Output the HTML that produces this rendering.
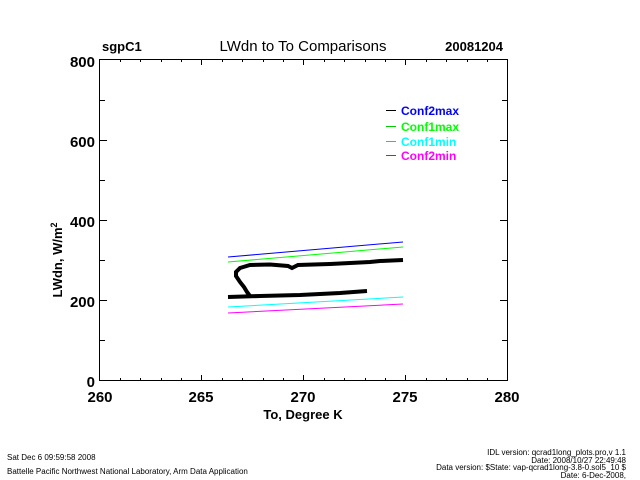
<!DOCTYPE html>
<html><head><style>body{margin:0;background:#fff}svg{display:block}</style></head><body>
<svg width="640" height="480" xmlns="http://www.w3.org/2000/svg" font-family="Liberation Sans, sans-serif">
<rect width="640" height="480" fill="#fff"/>
<g stroke="#000" stroke-width="1" fill="none">
<rect x="99.5" y="59.5" width="408" height="321"/>
<path d="M120.5 381v-3M140.5 381v-3M161.5 381v-3M181.5 381v-3M201.5 381v-6M222.5 381v-3M242.5 381v-3M263.5 381v-3M283.5 381v-3M303.5 381v-6M324.5 381v-3M344.5 381v-3M365.5 381v-3M385.5 381v-3M405.5 381v-6M426.5 381v-3M446.5 381v-3M467.5 381v-3M487.5 381v-3"/>
<path d="M120.5 59v3M140.5 59v3M161.5 59v3M181.5 59v3M201.5 59v6M222.5 59v3M242.5 59v3M263.5 59v3M283.5 59v3M303.5 59v6M324.5 59v3M344.5 59v3M365.5 59v3M385.5 59v3M405.5 59v6M426.5 59v3M446.5 59v3M467.5 59v3M487.5 59v3"/>
<path d="M99 340.5h6M99 300.5h8M99 260.5h6M99 220.5h8M99 180.5h6M99 140.5h8M99 100.5h6"/>
<path d="M508 340.5h-6M508 300.5h-8M508 260.5h-6M508 220.5h-8M508 180.5h-6M508 140.5h-8M508 100.5h-6"/>
</g>
<g font-size="15" font-weight="bold" text-anchor="middle" fill="#000">
<text x="100" y="402">260</text><text x="201" y="402">265</text><text x="303" y="402">270</text><text x="405" y="402">275</text><text x="507" y="402">280</text>
</g>
<g font-size="15" font-weight="bold" text-anchor="end" fill="#000">
<text x="95" y="387">0</text><text x="95" y="307">200</text><text x="95" y="227">400</text><text x="95" y="147">600</text><text x="95" y="67">800</text>
</g>
<text x="303" y="419" font-size="13" font-weight="bold" text-anchor="middle">To, Degree K</text>
<text transform="translate(62,260) rotate(-90)" font-size="13" font-weight="bold" text-anchor="middle">LWdn, W/m<tspan dy="-5" font-size="9">2</tspan></text>
<text x="102" y="51" font-size="13" font-weight="bold">sgpC1</text>
<text x="303" y="51" font-size="15" text-anchor="middle">LWdn to To Comparisons</text>
<text x="503" y="51" font-size="13" font-weight="bold" text-anchor="end">20081204</text>
<g font-size="12" font-weight="bold">
<line x1="386" y1="110.5" x2="396" y2="110.5" stroke="#000"/><text x="401" y="115" fill="#00f">Conf2max</text>
<line x1="386" y1="126.5" x2="396" y2="126.5" stroke="#0c0"/><text x="401" y="131" fill="#0f0">Conf1max</text>
<line x1="386" y1="141.5" x2="396" y2="141.5" stroke="#0cc"/><text x="401" y="146" fill="#0ff">Conf1min</text>
<line x1="386" y1="155.5" x2="396" y2="155.5" stroke="#c0c"/><text x="401" y="160" fill="#f0f">Conf2min</text>
</g>
<g fill="none" stroke-width="1">
<line x1="228" y1="257" x2="403" y2="242" stroke="#00f"/>
<line x1="228" y1="262" x2="403" y2="247" stroke="#0f0"/>
<line x1="228" y1="307" x2="403" y2="297" stroke="#0ff"/>
<line x1="228" y1="313" x2="403" y2="304" stroke="#f0f"/>
</g>
<path d="M228 297 L260 296 L300 295 L340 293 L367 291" stroke="#000" stroke-width="4" fill="none"/>
<path d="M250 296 L247 292 L244 287 L240 282 L236 276 L236 272 L240 268 L250 265 L270 264.5 L288 266 L292 268 L298 265 L330 264 L370 262 L380 261 L403 260" stroke="#000" stroke-width="4" fill="none"/>
<g font-size="8" fill="#000">
<text x="7" y="460">Sat Dec  6 09:59:58 2008</text>
<text x="7" y="474">Battelle Pacific Northwest National Laboratory, Arm Data Application</text>
</g>
<g font-size="8" fill="#000" text-anchor="end">
<text x="626" y="455">IDL version: qcrad1long_plots.pro,v 1.1</text>
<text x="626" y="463">Date: 2008/10/27 22:49:48</text>
<text x="626" y="470">Data version: $State: vap-qcrad1long-3.8-0.sol5_10 $</text>
<text x="626" y="478">Date: 6-Dec-2008,</text>
</g>
</svg>
</body></html>
